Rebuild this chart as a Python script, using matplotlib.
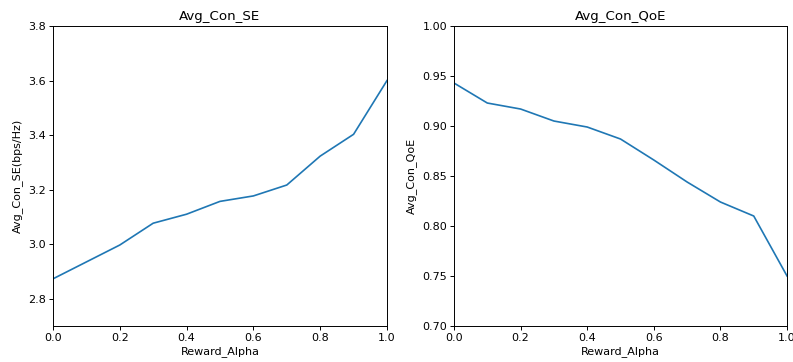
import numpy as np
import matplotlib
matplotlib.use("Agg")
import matplotlib.pyplot as plt

# reward weight sweep
alpha = [0.0, 0.1, 0.2, 0.3, 0.4, 0.5, 0.6, 0.7, 0.8, 0.9, 1.0]
avg_con_se = [2.873, 2.935, 2.997, 3.077, 3.110, 3.157, 3.177, 3.217, 3.323, 3.403, 3.600]
avg_con_qoe = [0.943, 0.923, 0.917, 0.905, 0.899, 0.887, 0.866, 0.844, 0.824, 0.810, 0.750]

plt.rcParams['font.size'] = 8

fig = plt.figure(figsize=(7.93, 3.62), dpi=100)

# left panel: spectral efficiency
ax1 = fig.add_axes([0.0668, 0.0994, 0.4212, 0.8287])
ax1.plot(alpha, avg_con_se, color="tab:blue", linewidth=1.2)
ax1.set_xlim(0, 1)
ax1.set_ylim(2.7, 3.8)
ax1.set_yticks(np.arange(2.8, 3.81, 0.2))
ax1.set_title("Avg_Con_SE", fontsize=9.6, pad=4)
ax1.set_xlabel("Reward_Alpha", labelpad=2)
ax1.set_ylabel("Avg_Con_SE(bps/Hz)", labelpad=4)

# right panel: QoE
ax2 = fig.add_axes([0.5725, 0.0994, 0.4200, 0.8287])
ax2.plot(alpha, avg_con_qoe, color="tab:blue", linewidth=1.2)
ax2.set_xlim(0, 1)
ax2.set_ylim(0.70, 1.00)
ax2.set_yticks(np.arange(0.70, 1.001, 0.05))
ax2.set_title("Avg_Con_QoE", fontsize=9.6, pad=4)
ax2.set_xlabel("Reward_Alpha", labelpad=2)
ax2.set_ylabel("Avg_Con_QoE", labelpad=4)

for ax in (ax1, ax2):
    ax.tick_params(length=3, width=0.7, pad=2)
    for s in ax.spines.values():
        s.set_linewidth(0.7)

fig.savefig("out.png", dpi=100)
